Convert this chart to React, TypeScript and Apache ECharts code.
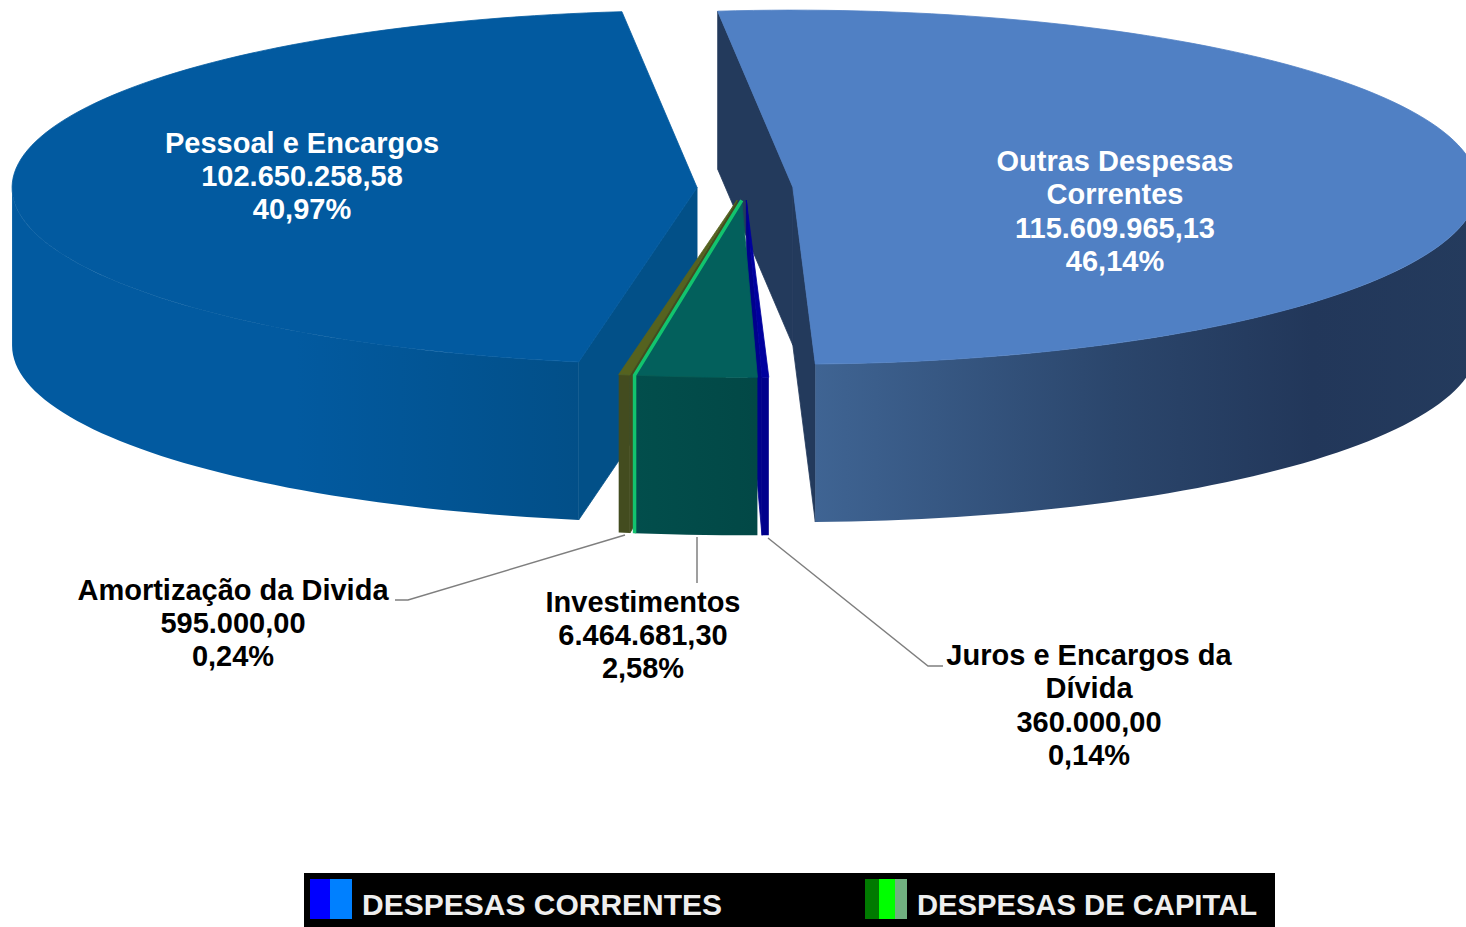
import React, { useEffect, useRef } from "react";
import * as echarts from "echarts";

// Slices in clockwise order, starting from the gap at the top
const categories = ["Outras Despesas\nCorrentes", "Juros e Encargos da\nDívida", "Investimentos", "Amortização da Divida", "Pessoal e Encargos"];
const values = [115609965.13, 360000.0, 6464681.3, 595000.0, 102650258.58];
const valueLabels = ["115.609.965,13", "360.000,00", "6.464.681,30", "595.000,00", "102.650.258,58"];
const percentLabels = ["46,14%", "0,14%", "2,58%", "0,24%", "40,97%"];
const topColors = ["#5080c4", "#00009e", "#03605c", "#55621f", "#025aa0"];
const faceColors = ["#233a5c", "#00008c", "#024a48", "#434c1f", "#025088"];
const wallStops: [number, string][][] = [
  [[0, "#3f6493"], [0.45, "#2b466c"], [0.75, "#22375a"], [1, "#243b5d"]],
  [[0, "#00008c"], [1, "#00008c"]],
  [[0, "#024e4c"], [1, "#024846"]],
  [[0, "#434c1f"], [1, "#434c1f"]],
  [[0, "#025aa0"], [0.5, "#025aa0"], [1, "#024f88"]],
];
const labelColors = ["#ffffff", "#000000", "#000000", "#000000", "#ffffff"];
const labelCentres = [[1115, 211], [1089, 705], [643, 635], [233, 623], [302, 176]];
const drawOrder = [4, 0, 1, 3, 2];
const legendItems = ["DESPESAS CORRENTES", "DESPESAS DE CAPITAL"];
const legendSizes = [30, 29.2];
const legendSwatches = [
  [[310, 20, "#0000ff"], [330, 22, "#0080ff"]],
  [[865, 14, "#007a00"], [879, 16, "#00ff00"], [895, 12, "#70b080"]],
];

const CX = 745, CY = 188, RX = 685, RY = 177, DEPTH = 158, EXPLODE = 0.07, START = -6.3;

const total = values.reduce((a, b) => a + b, 0);
const rad = (d: number) => (d * Math.PI) / 180;
const ranges = (() => {
  let a = START;
  return values.map((v) => {
    const s = a;
    a += (v / total) * 360;
    return [s, a];
  });
})();

function arc(ox: number, oy: number, a: number, b: number, dy = 0) {
  const n = Math.max(2, Math.ceil(Math.abs(b - a) / 1.5));
  const pts: number[][] = [];
  for (let i = 0; i <= n; i++) {
    const t = rad(a + ((b - a) * i) / n);
    pts.push([ox + RX * Math.sin(t), oy - RY * Math.cos(t) + dy]);
  }
  return pts;
}

function renderSlice(params: any) {
  const i = drawOrder[params.dataIndex];
  const [a, b] = ranges[i];
  const mid = rad((a + b) / 2);
  const ox = CX + RX * EXPLODE * Math.sin(mid);
  const oy = CY - RY * EXPLODE * Math.cos(mid);
  const children: any[] = [];
  const poly = (points: number[][], fill: any, stroke: any = "none") =>
    children.push({ type: "polygon", shape: { points }, style: { fill, stroke, lineWidth: 0.8 } });

  const faceFor = (deg: number) => {
    const r = arc(ox, oy, deg, deg)[0];
    poly([[ox, oy], r, [r[0], r[1] + DEPTH], [ox, oy + DEPTH]], faceColors[i], faceColors[i]);
  };
  if (Math.sin(rad(a)) < 0) faceFor(a);
  if (Math.sin(rad(b)) > 0) faceFor(b);

  const wa = Math.max(a, 90), wb = Math.min(b, 270);
  if (wb > wa) {
    const up = arc(ox, oy, wa, wb);
    const down = arc(ox, oy, wa, wb, DEPTH).reverse();
    poly(up.concat(down), {
      type: "linear", x: 0, y: 0, x2: 1, y2: 0,
      colorStops: wallStops[i].map(([offset, color]) => ({ offset, color })),
    });
  }
  poly([[ox, oy]].concat(arc(ox, oy, a, b)), topColors[i], topColors[i]);

  if (categories[i] === "Investimentos") {
    const rim = arc(ox, oy, b, b)[0];
    children.push({
      type: "polyline",
      shape: { points: [[ox, oy], rim, [rim[0], rim[1] + DEPTH]] },
      style: { stroke: "#12c46e", lineWidth: 3.5, fill: "none" },
    });
  }
  return { type: "group", children };
}

export default function App() {
  const ref = useRef<HTMLDivElement>(null);
  useEffect(() => {
    const chart = echarts.init(ref.current!, null, { renderer: "svg" });
    const font = { fontFamily: "Liberation Sans", fontWeight: "bold" };
    const graphic: any[] = [];
    categories.forEach((c, i) => {
      graphic.push({
        type: "text",
        x: labelCentres[i][0],
        y: labelCentres[i][1],
        z: 10,
        style: {
          text: `${c}\n${valueLabels[i]}\n${percentLabels[i]}`,
          fill: labelColors[i],
          fontSize: 29,
          lineHeight: 33.3,
          align: "center",
          verticalAlign: "middle",
          ...font,
        },
      });
    });
    [
      [[625, 535], [408, 600], [395, 600]],
      [[697, 537], [697, 583]],
      [[768, 538], [928, 666], [943, 666]],
    ].forEach((points) =>
      graphic.push({ type: "polyline", z: 10, shape: { points }, style: { stroke: "#7f7f7f", lineWidth: 1.5, fill: "none" } })
    );
    graphic.push({ type: "rect", z: 10, shape: { x: 304, y: 873, width: 971, height: 54 }, style: { fill: "#000000" } });
    legendSwatches.forEach((sw) =>
      sw.forEach(([x, w, c]) =>
        graphic.push({ type: "rect", z: 11, shape: { x, y: 879, width: w, height: 40 }, style: { fill: c } })
      )
    );
    legendItems.forEach((t, i) =>
      graphic.push({
        type: "text", z: 11, x: [362, 917][i], y: [904, 905][i],
        style: { text: t, fill: "#eeeeee", fontSize: legendSizes[i], align: "left", verticalAlign: "middle", ...font },
      })
    );
    chart.setOption({
      animation: false,
      backgroundColor: "#ffffff",
      tooltip: { show: false },
      graphic,
      series: [
        {
          type: "custom",
          coordinateSystem: "none",
          silent: true,
          renderItem: renderSlice,
          data: drawOrder.map((i) => [values[i]]),
        },
      ],
    });
    return () => chart.dispose();
  }, []);
  return (
    <div style={{ position: "fixed", left: 0, top: 0, width: 1466, height: 927, overflow: "hidden" }}>
      <div ref={ref} style={{ width: 1466, height: 927 }} />
    </div>
  );
}
